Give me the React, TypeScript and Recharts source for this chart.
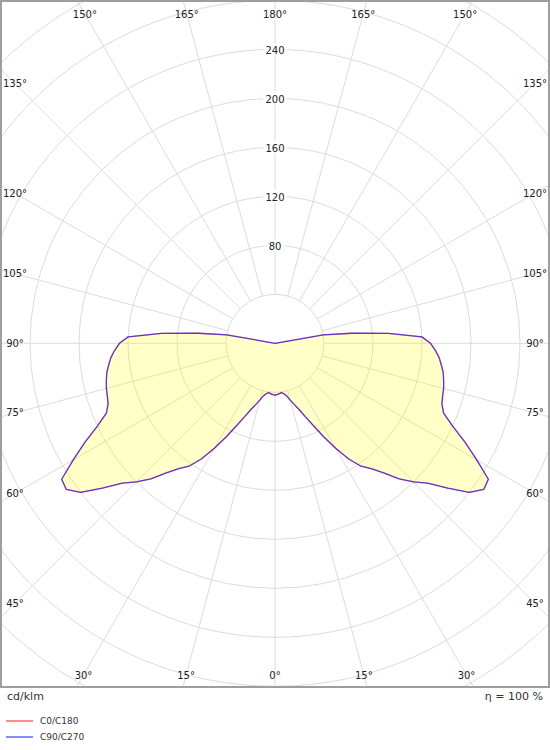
import {
  RadarChart,
  Radar,
  PolarGrid,
  PolarAngleAxis,
  PolarRadiusAxis,
  Legend,
} from "recharts";

// gamma angles 0..180 in 2.5° steps; luminaire is symmetric, every C-plane half uses this profile
const GAMMA_STEP = 2.5;
const halfProfile = [
  42.2, 42, 41.2, 40.6, 41.8, 44, 48, 52.5, 57.5, 65,
  74, 86, 99, 112, 122.5, 129, 138, 150, 160, 169,
  184, 200, 208, 206.5, 190, 175, 160, 149, 145, 143.5,
  142.5, 141, 139.5, 137, 134.5, 131, 127, 120, 93, 63,
  40, 0, 0, 0, 0, 0, 0, 0, 0, 0,
  0, 0, 0, 0, 0, 0, 0, 0, 0, 0,
  0, 0, 0, 0, 0, 0, 0, 0, 0, 0,
  0, 0, 0,
];
const c0c180 = halfProfile;
const c90c270 = halfProfile;

const ringValues = [40, 80, 120, 160, 200, 240, 280, 320, 360];
const ringLabels = [80, 120, 160, 200, 240];
const RAY_STEP = 15;

const SERIES = [
  { key: "c0c180", name: "C0/C180", color: "#ff0000", opacity: 0.5 },
  { key: "c90c270", name: "C90/C270", color: "#0000ff", opacity: 0.6 },
];

const FONT = "'DejaVu Sans', Verdana, sans-serif";
const W = 550;
const H = 688;
const CX = 275;
const CY = 343.3;
const PX_PER_UNIT = 1.225;
const START_ANGLE = -90; // gamma 0 at the bottom, clockwise
const LABEL_BOX = { left: 15, right: 535, top: 14, bottom: 675 };

// position around the circle: 0..180 left half (C180 / C270), 180..360 right half (C0 / C90)
const data = Array.from({ length: (halfProfile.length - 1) * 2 }, (_, i) => {
  const pos = i * GAMMA_STEP;
  const g = pos <= 180 ? i : (halfProfile.length - 1) * 2 - i;
  return { pos, c0c180: c0c180[g], c90c270: c90c270[g] };
});

const rayAngles = data
  .filter((d) => d.pos % RAY_STEP === 0)
  .map((d) => START_ANGLE - d.pos);

function edgePoint(x: number, y: number) {
  const len = Math.hypot(x - CX, y - CY) || 1;
  const dx = (x - CX) / len;
  const dy = (y - CY) / len;
  let t = Infinity;
  if (dx > 1e-6) t = Math.min(t, (LABEL_BOX.right - CX) / dx);
  if (dx < -1e-6) t = Math.min(t, (LABEL_BOX.left - CX) / dx);
  if (dy > 1e-6) t = Math.min(t, (LABEL_BOX.bottom - CY) / dy);
  if (dy < -1e-6) t = Math.min(t, (LABEL_BOX.top - CY) / dy);
  return { x: CX + t * dx, y: CY + t * dy };
}

function AngleTick(props: any) {
  const { x, y, payload } = props;
  const pos = Number(payload.value);
  if (pos % RAY_STEP !== 0) return null;
  const label = pos <= 180 ? pos : 360 - pos;
  const p = edgePoint(x, y);
  return (
    <text
      x={p.x}
      y={p.y}
      textAnchor="middle"
      dominantBaseline="central"
      fontSize={10}
      fontFamily={FONT}
      fill="#222"
    >
      {`${label}°`}
    </text>
  );
}

function RadiusTick(props: any) {
  const { x, y, payload } = props;
  if (!ringLabels.includes(payload.value)) return null;
  const w = String(payload.value).length * 6.4 + 4;
  return (
    <g>
      <rect x={x - w / 2} y={y - 6} width={w} height={12} fill="#fff" />
      <text
        x={x}
        y={y + 1}
        textAnchor="middle"
        dominantBaseline="central"
        fontSize={10}
        fontFamily={FONT}
        fill="#222"
      >
        {payload.value}
      </text>
    </g>
  );
}

function LegendContent({ payload }: any) {
  return (
    <div style={{ fontFamily: FONT, fontSize: 9, color: "#333" }}>
      {(payload ?? []).map((e: any) => {
        const s = SERIES.find((it) => it.name === e.value);
        return (
          <div key={e.value} style={{ display: "flex", alignItems: "center", height: 16 }}>
            <span
              style={{
                display: "inline-block",
                width: 27,
                borderTop: `2px solid ${s ? s.color : e.color}`,
                opacity: 0.45,
                marginLeft: 6,
                marginRight: 7,
              }}
            />
            {e.value}
          </div>
        );
      })}
    </div>
  );
}

export default function App() {
  return (
    <div style={{ position: "absolute", left: 0, top: 0, width: W, height: 750, background: "#fff" }}>
      <RadarChart
        width={W}
        height={H}
        data={data}
        cx={CX}
        cy={CY}
        innerRadius={ringValues[0] * PX_PER_UNIT}
        outerRadius={ringValues[ringValues.length - 1] * PX_PER_UNIT}
        startAngle={START_ANGLE}
        endAngle={START_ANGLE - 360}
        margin={{ top: 0, right: 0, bottom: 0, left: 0 }}
      >
        <PolarGrid gridType="circle" polarAngles={rayAngles} stroke="#dcdcdc" />
        <PolarAngleAxis
          dataKey="pos"
          type="category"
          axisLine={false}
          tickLine={false}
          tick={<AngleTick />}
        />
        <PolarRadiusAxis
          angle={90}
          type="number"
          domain={[ringValues[0], ringValues[ringValues.length - 1]]}
          ticks={ringValues as any}
          tickCount={ringValues.length}
          allowDataOverflow
          axisLine={false}
          tickLine={false}
          tick={<RadiusTick />}
        />
        <Radar
          name={SERIES[0].name}
          dataKey={SERIES[0].key}
          stroke={SERIES[0].color}
          strokeOpacity={SERIES[0].opacity}
          strokeWidth={1.3}
          strokeLinejoin="round"
          fill="#ffff00"
          fillOpacity={0.22}
          dot={false}
          activeDot={false}
          isAnimationActive={false}
        />
        <Radar
          name={SERIES[1].name}
          dataKey={SERIES[1].key}
          stroke={SERIES[1].color}
          strokeOpacity={SERIES[1].opacity}
          strokeWidth={1.3}
          strokeLinejoin="round"
          fill="none"
          fillOpacity={0}
          dot={false}
          activeDot={false}
          isAnimationActive={false}
        />
        <Legend
          content={<LegendContent />}
          wrapperStyle={{ position: "absolute", top: 713, left: 0, bottom: "auto", width: 200 }}
        />
      </RadarChart>
      <div
        style={{
          position: "absolute",
          left: 0,
          top: 0,
          width: W,
          height: H,
          border: "2px solid #9e9e9e",
          boxSizing: "border-box",
          pointerEvents: "none",
        }}
      />
      <div style={{ position: "absolute", left: 7, top: 690, fontFamily: FONT, fontSize: 11, color: "#333" }}>
        cd/klm
      </div>
      <div style={{ position: "absolute", right: 7, top: 690, fontFamily: FONT, fontSize: 11, color: "#333" }}>
        η = 100 %
      </div>
    </div>
  );
}
